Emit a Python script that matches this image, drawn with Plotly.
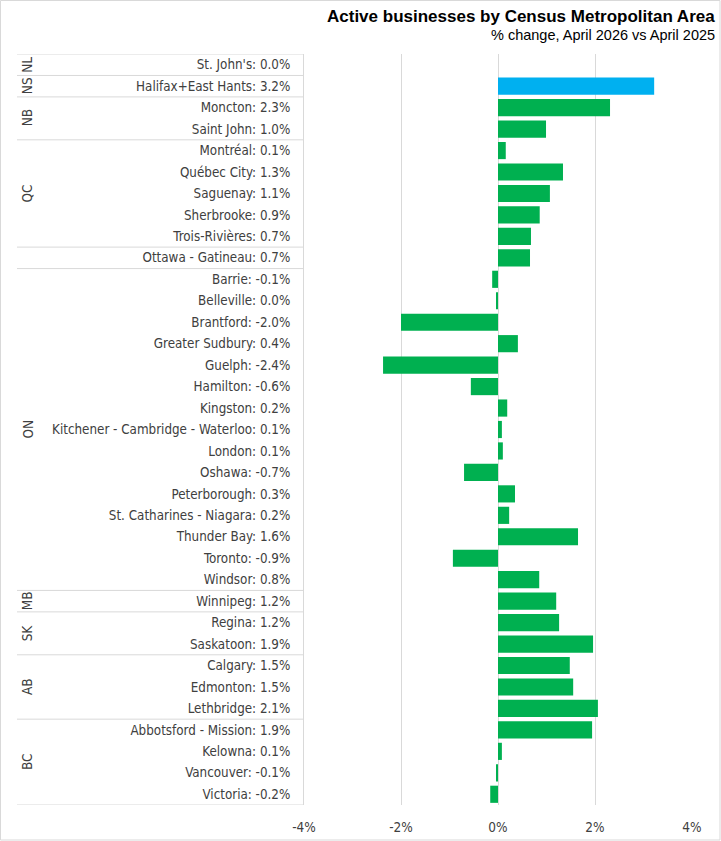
import plotly.graph_objects as go

# ---- data ----
provinces = ["NL", "NS", "NB", "QC", "", "ON", "MB", "SK", "AB", "BC"]
cities = [
    ["St. John's"],
    ["Halifax+East Hants"],
    ["Moncton", "Saint John"],
    ["Montréal", "Québec City", "Saguenay", "Sherbrooke", "Trois-Rivières"],
    ["Ottawa - Gatineau"],
    ["Barrie", "Belleville", "Brantford", "Greater Sudbury", "Guelph", "Hamilton",
     "Kingston", "Kitchener - Cambridge - Waterloo", "London", "Oshawa",
     "Peterborough", "St. Catharines - Niagara", "Thunder Bay", "Toronto", "Windsor"],
    ["Winnipeg"],
    ["Regina", "Saskatoon"],
    ["Calgary", "Edmonton", "Lethbridge"],
    ["Abbotsford - Mission", "Kelowna", "Vancouver", "Victoria"],
]
# displayed (rounded) % change
label_pct = [0.0, 3.2, 2.3, 1.0, 0.1, 1.3, 1.1, 0.9, 0.7, 0.7,
             -0.1, 0.0, -2.0, 0.4, -2.4, -0.6, 0.2, 0.1, 0.1, -0.7,
             0.3, 0.2, 1.6, -0.9, 0.8, 1.2, 1.2, 1.9, 1.5, 1.5,
             2.1, 1.9, 0.1, -0.1, -0.2]
# bar lengths (estimated unrounded % change)
change_pct = [0.0, 3.22, 2.31, 0.99, 0.16, 1.34, 1.07, 0.86, 0.68, 0.66,
              -0.12, -0.04, -2.0, 0.41, -2.37, -0.56, 0.19, 0.08, 0.1, -0.7,
              0.35, 0.23, 1.65, -0.93, 0.85, 1.2, 1.26, 1.96, 1.48, 1.55,
              2.06, 1.94, 0.08, -0.04, -0.16]
highlight = "Halifax+East Hants"
x_ticks = [-4, -2, 0, 2, 4]
title = "Active businesses by Census Metropolitan Area"
subtitle = "% change, April 2026 vs April 2025"

# ---- layout constants ----
W, H = 721, 841
ML, MR, MT, MB_ = 304, 29, 54, 36
PW, PH = W - ML - MR, H - MT - MB_
FONT = "DejaVu Sans Condensed, Liberation Sans, Arial"
TFONT = "Liberation Sans, Arial"
GRID = "#D9D9D9"
TXT = "#404040"

def px_x(px):
    return (px - ML) / PW

def px_y(py):
    return 1 - (py - MT) / PH

flat_cities = [c for grp in cities for c in grp]
idx = list(range(len(flat_cities)))
ticktext = [f"{c}: {v:.1f}%" for c, v in zip(flat_cities, label_pct)]
colors = ["#00B0F0" if c == highlight else "#00B050" for c in flat_cities]

fig = go.Figure(go.Bar(
    x=change_pct, y=idx, orientation="h",
    marker=dict(color=colors, line=dict(width=0)),
    hoverinfo="skip",
))

shapes = []
annotations = []
pos = 0
bounds = [-0.5]
for prov, grp in zip(provinces, cities):
    start = pos
    pos += len(grp)
    bounds.append(pos - 0.5)
    if prov:
        annotations.append(dict(
            text=prov, xref="paper", yref="y", x=px_x(27), y=(start + pos - 1) / 2,
            textangle=-90, showarrow=False, xanchor="center", yanchor="middle",
            font=dict(family=FONT, size=13.5, color=TXT),
        ))
for b in bounds:
    shapes.append(dict(type="line", xref="paper", yref="y",
                       x0=px_x(17), x1=0, y0=b, y1=b,
                       line=dict(color=GRID, width=1)))

# outer border
shapes.append(dict(type="rect", xref="paper", yref="paper",
                   x0=px_x(0.5), x1=px_x(W - 1), y0=px_y(H - 1), y1=px_y(0.5),
                   line=dict(color=GRID, width=1), fillcolor="rgba(0,0,0,0)"))

annotations.append(dict(text=f"<b>{title}</b>", xref="paper", yref="paper",
                        x=px_x(717), y=px_y(16), xanchor="right", yanchor="middle",
                        showarrow=False, font=dict(family=TFONT, size=17, color="#000000")))
annotations.append(dict(text=subtitle, xref="paper", yref="paper",
                        x=px_x(717), y=px_y(35), xanchor="right", yanchor="middle",
                        showarrow=False, font=dict(family=TFONT, size=14.5, color="#000000")))

fig.update_layout(
    width=W, height=H, autosize=False,
    margin=dict(l=ML, r=MR, t=MT, b=MB_, pad=0, autoexpand=False),
    paper_bgcolor="white", plot_bgcolor="white",
    bargap=0.2, showlegend=False,
    shapes=shapes, annotations=annotations,
    xaxis=dict(range=[-4, 4], tickvals=x_ticks,
               ticktext=[f"{t}%" for t in x_ticks],
               showgrid=True, gridcolor=GRID, gridwidth=1,
               zeroline=True, zerolinecolor=GRID, zerolinewidth=1,
               showline=False, ticks="", automargin=False,
               tickfont=dict(family=FONT, size=13.5, color=TXT),
               ticklabelstandoff=12, fixedrange=True),
    yaxis=dict(tickvals=idx, ticktext=ticktext,
               range=[len(idx) - 0.5, -0.5],
               showgrid=False, zeroline=False, automargin=False,
               showline=True, linecolor=GRID, linewidth=1,
               ticks="", ticklabelstandoff=10,
               tickfont=dict(family=FONT, size=13.3, color=TXT),
               fixedrange=True),
)

fig.write_html("out.html", config={"displayModeBar": False},
               post_script="document.body.style.margin='0';")
